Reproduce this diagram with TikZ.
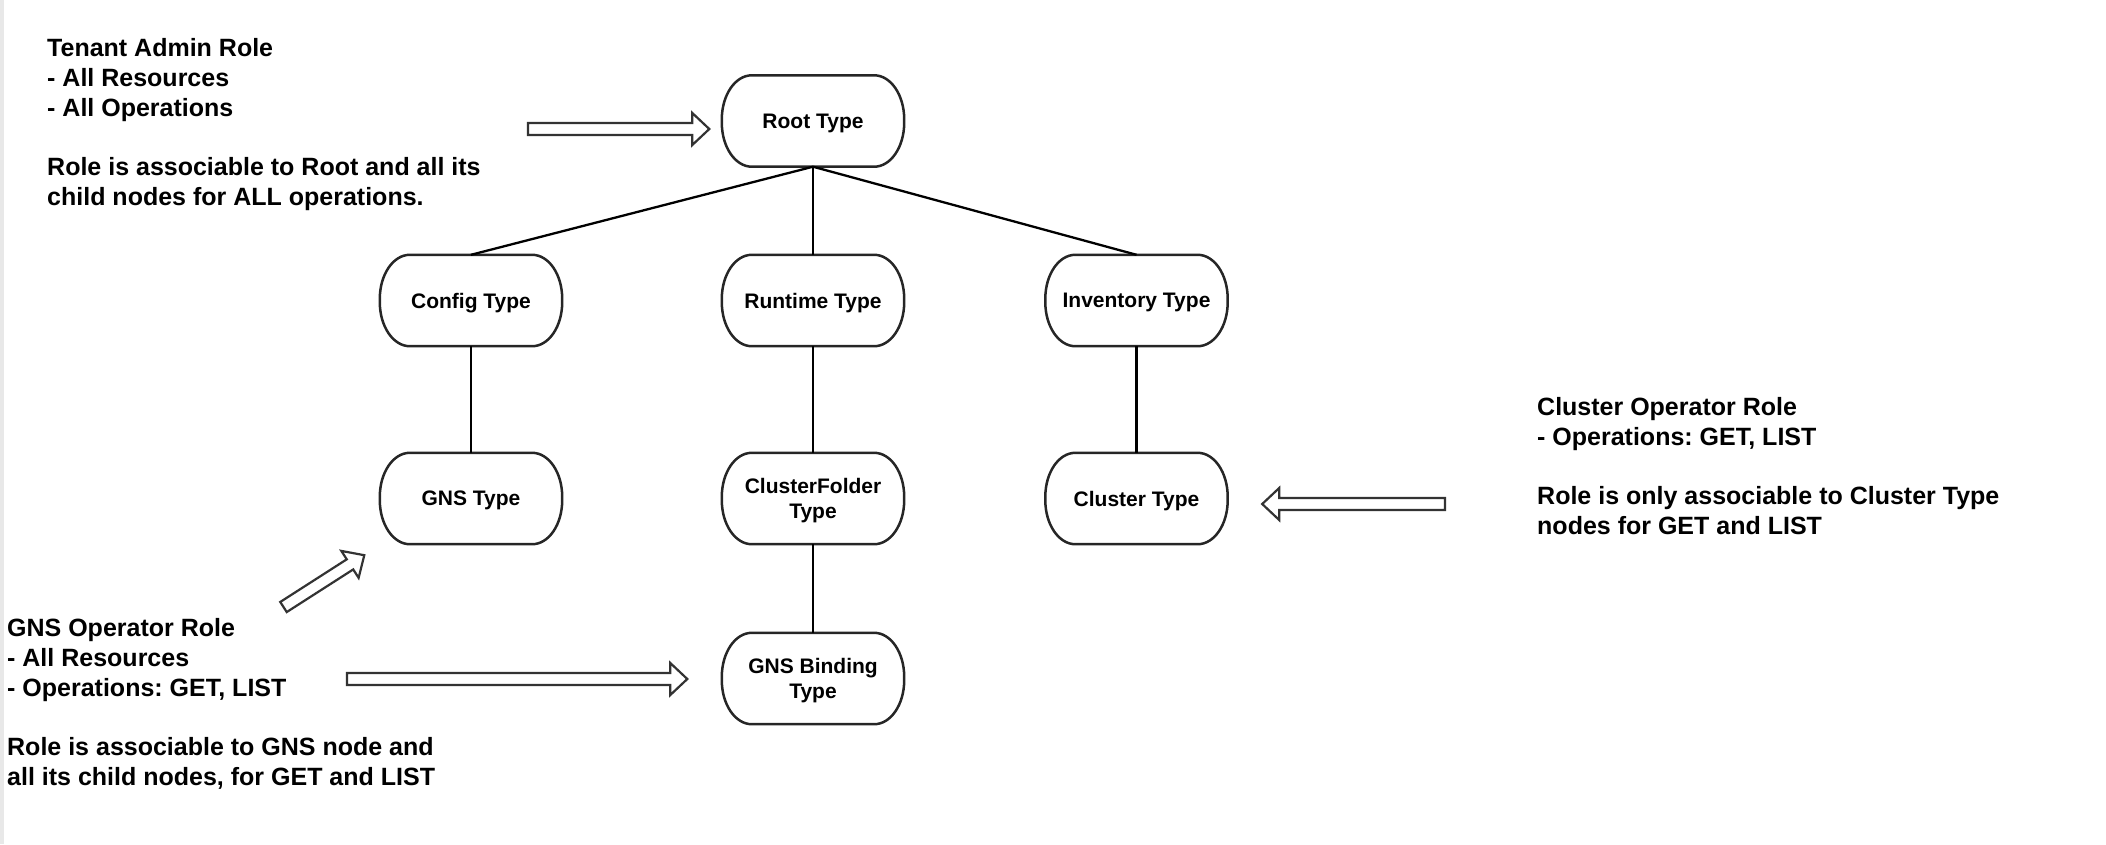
\documentclass[tikz,border=0pt]{standalone}
\usepackage{fontspec}
\setmainfont{Liberation Sans}
\frenchspacing
\usetikzlibrary{calc}
\newcommand\termborder[1]{%
  \draw[nodeborder] ([xshift=30pt]#1.north west) -- ([xshift=-30pt]#1.north east)
    arc[start angle=90,end angle=0,x radius=30pt,y radius=44pt]
    -- ([yshift=44pt]#1.south east)
    arc[start angle=0,end angle=-90,x radius=30pt,y radius=44pt]
    -- ([xshift=30pt]#1.south west)
    arc[start angle=270,end angle=180,x radius=30pt,y radius=44pt]
    -- ([yshift=-44pt]#1.north west)
    arc[start angle=180,end angle=90,x radius=30pt,y radius=44pt] -- cycle;}
\newcommand\hollowarrow[2]{%
  \coordinate (hb) at ($(#2)!17pt!(#1)$);
  \draw[blockarr] ($(#1)!6pt!90:(#2)$) -- ($(hb)!6pt!90:(#2)$) -- ($(hb)!16pt!90:(#2)$)
    -- (#2) -- ($(hb)!16pt!-90:(#2)$) -- ($(hb)!6pt!-90:(#2)$) -- ($(#1)!6pt!-90:(#2)$) -- cycle;}
\begin{document}
\begin{tikzpicture}[x=1pt,y=1pt,
  tnode/.style={inner sep=0pt, minimum width=182pt, minimum height=91pt,
    font=\bfseries\fontsize{21}{25.5}\selectfont, align=center, text depth=0pt},
  nodeborder/.style={draw=black!85, line width=2.5pt},
  link/.style={draw=black, line width=2.3pt},
  blockarr/.style={draw=black!80, line width=2.2pt, fill=white, line join=miter},
  note/.style={inner sep=0pt, anchor=north west, align=left,
    font=\bfseries\fontsize{25}{29.7}\selectfont}]
\useasboundingbox (0,0) rectangle (2106,-844);
\fill[black!9] (0,0) rectangle (4,-844);

% tree nodes
\node[tnode] (root) at (813,-121) {Root Type};
\node[tnode] (config) at (471,-300.5) {Config Type};
\node[tnode] (runtime) at (813,-300.5) {Runtime Type};
\node[tnode] (inventory) at (1136.5,-300.5) {Inventory Type};
\node[tnode] (gns) at (471,-498.5) {GNS Type};
\node[tnode] (cfolder) at (813,-498.5) {ClusterFolder\\Type};
\node[tnode] (cluster) at (1136.5,-498.5) {Cluster Type};
\node[tnode] (gnsb) at (813,-678.5) {GNS Binding\\Type};

\foreach \n in {root,config,runtime,inventory,gns,cfolder,cluster,gnsb}{\termborder{\n}}

% tree links
\draw[link] (root.south) -- (config.north);
\draw[link] (root.south) -- (runtime.north);
\draw[link] (root.south) -- (inventory.north);
\draw[link] (config.south) -- (gns.north);
\draw[link] (runtime.south) -- (cfolder.north);
\draw[link] (cfolder.south) -- (gnsb.north);
\draw[link] (inventory.south) -- (cluster.north);

% notes
\node[note] (tenant) at (47,-38.5) {Tenant Admin Role\\- All Resources\\- All Operations\\[29.7pt]Role is associable to Root and all its\\child nodes for ALL operations.};
\node[note] (clop) at (1537,-397.5) {Cluster Operator Role\\- Operations: GET, LIST\\[29.7pt]Role is only associable to Cluster Type\\nodes for GET and LIST};
\node[note] (gnsop) at (7,-618.5) {GNS Operator Role\\- All Resources\\- Operations: GET, LIST\\[29.7pt]Role is associable to GNS node and\\all its child nodes, for GET and LIST};

% block arrows
\coordinate (a1s) at (528,-129);
\coordinate (a1e) at ([shift={(-12.5,-8)}]root.west);
\coordinate (a2s) at (1445,-504);
\coordinate (a2e) at ([shift={(34.5,-5.5)}]cluster.east);
\coordinate (a3s) at (347,-679);
\coordinate (a3e) at ([shift={(-34.5,-0.5)}]gnsb.west);
\coordinate (a4s) at (283.5,-607);
\coordinate (a4e) at ([shift={(-15.5,-11)}]gns.south west);
\hollowarrow{a1s}{a1e}
\hollowarrow{a2s}{a2e}
\hollowarrow{a3s}{a3e}
\hollowarrow{a4s}{a4e}
\end{tikzpicture}
\end{document}
